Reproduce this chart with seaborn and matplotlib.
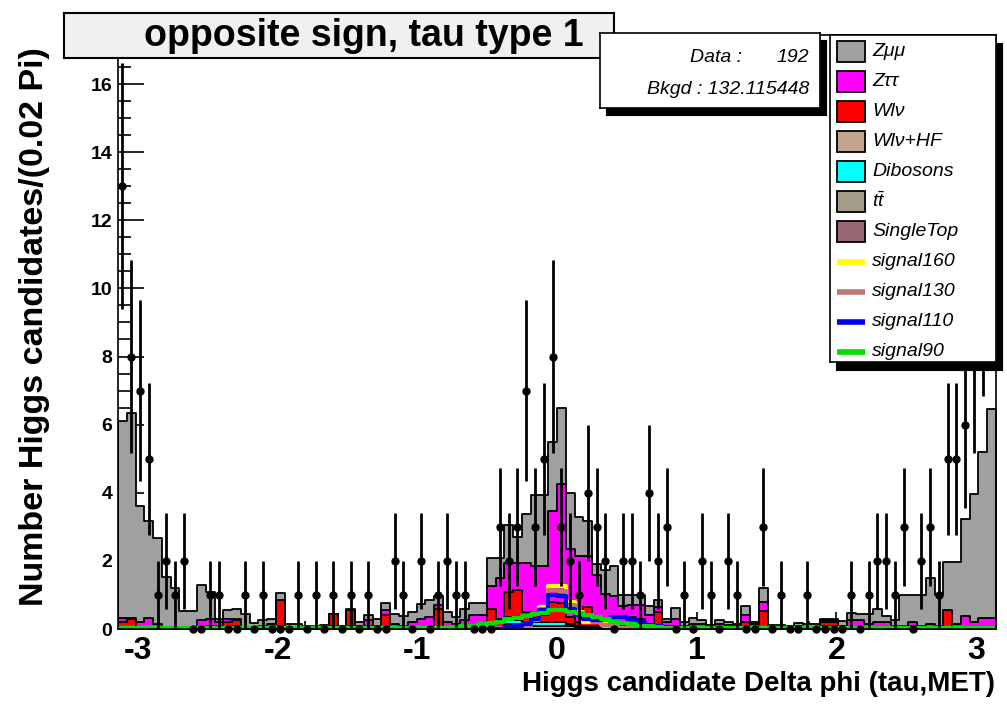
import numpy as np
import pandas as pd
import matplotlib
matplotlib.use("Agg")
import matplotlib.pyplot as plt
import seaborn as sns
from matplotlib.patches import Rectangle

# ---------------- data ----------------
n_bins = 100
x_low, x_high = -np.pi, np.pi

data_counts = [13, 8, 7, 5, 1, 2, 1, 2, 0, 0,
               1, 1, 0, 0, 1, 0, 1, 0, 0, 0,
               1, 0, 1, 0, 1, 0, 1, 0, 1, 0,
               0, 2, 1, 0, 2, 0, 1, 2, 1, 1,
               0, 0, 0, 3, 2, 3, 7, 3, 5, 8,
               3, 2, 1, 4, 3, 2, 0, 2, 2, 1,
               4, 2, 3, 0, 1, 0, 2, 1, 0, 2,
               1, 0, 0, 3, 0, 1, 0, 0, 1, 0,
               0, 0, 0, 1, 0, 1, 2, 2, 1, 3,
               0, 2, 3, 1, 5, 5, 6, 8, 10, 12]

zmumu = [5.78, 6.02, 3.42, 2.85, 2.51, 1.47, 1.15, 0.50, 0.50, 1.03,
         0.80, 0.10, 0.25, 0.30, 0.38, 0.14, 0.15, 0.15, 0.20, 0.10,
         0.10, 0.06, 0.06, 0.08, 0.00, 0.06, 0.05, 0.14, 0.15, 0.18,
         0.20, 0.28, 0.28, 0.30, 0.42, 0.50, 0.27, 0.30, 0.20, 0.35,
         0.35, 0.35, 0.82, 0.58, 1.11, 0.74, 1.43, 2.09, 2.09, 2.01,
         2.23, 1.63, 1.15, 1.03, 0.32, 0.70, 0.89, 0.32, 0.30, 0.30,
         0.28, 0.19, 0.08, 0.33, 0.10, 0.18, 0.11, 0.03, 0.11, 0.08,
         0.05, 0.28, 0.05, 0.42, 0.05, 0.05, 0.05, 0.10, 0.08, 0.08,
         0.03, 0.03, 0.14, 0.23, 0.18, 0.28, 0.38, 0.18, 0.15, 0.90,
         0.80, 0.90, 1.35, 0.90, 1.42, 1.82, 2.87, 3.76, 4.86, 6.14]

ztautau = [0.12, 0.05, 0.15, 0.28, 0.15, 0.05, 0.05, 0.03, 0.03, 0.20,
           0.20, 0.10, 0.10, 0.05, 0.05, 0.05, 0.10, 0.00, 0.00, 0.05,
           0.05, 0.04, 0.04, 0.04, 0.00, 0.04, 0.00, 0.08, 0.15, 0.10,
           0.15, 0.10, 0.10, 0.15, 0.30, 0.30, 0.10, 0.20, 0.15, 0.25,
           0.30, 0.30, 0.66, 1.20, 0.85, 0.80, 1.45, 1.45, 1.45, 2.67,
           3.50, 2.00, 1.95, 1.50, 1.40, 0.85, 0.80, 0.55, 0.35, 0.40,
           0.30, 0.15, 0.10, 0.20, 0.10, 0.15, 0.10, 0.08, 0.15, 0.12,
           0.10, 0.20, 0.15, 0.25, 0.08, 0.00, 0.05, 0.08, 0.06, 0.06,
           0.05, 0.05, 0.10, 0.25, 0.25, 0.15, 0.20, 0.20, 0.10, 0.10,
           0.10, 0.10, 0.15, 0.10, 0.00, 0.15, 0.37, 0.20, 0.33, 0.33]

wlnu = [0.20, 0.28, 0.00, 0.05, 0.00, 0.00, 0.00, 0.00, 0.00, 0.05,
        0.00, 0.10, 0.20, 0.15, 0.00, 0.00, 0.00, 0.10, 0.77, 0.00,
        0.00, 0.00, 0.00, 0.00, 0.35, 0.00, 0.45, 0.00, 0.00, 0.00,
        0.40, 0.05, 0.00, 0.00, 0.00, 0.05, 0.60, 0.00, 0.00, 0.00,
        0.10, 0.10, 0.60, 0.30, 0.75, 0.85, 0.30, 0.20, 0.20, 0.60,
        0.55, 0.20, 0.10, 0.55, 0.10, 0.07, 0.07, 0.03, 0.25, 0.20,
        0.10, 0.50, 0.10, 0.10, 0.00, 0.00, 0.00, 0.00, 0.00, 0.00,
        0.00, 0.20, 0.00, 0.53, 0.00, 0.00, 0.00, 0.00, 0.00, 0.00,
        0.10, 0.10, 0.00, 0.00, 0.00, 0.00, 0.00, 0.00, 0.00, 0.00,
        0.10, 0.00, 0.00, 0.00, 0.55, 0.00, 0.00, 0.00, 0.00, 0.00]

wlnuhf = [0, 0, 0, 0, 0, 0, 0, 0, 0, 0,
          0, 0, 0, 0, 0, 0, 0, 0, 0.08, 0,
          0, 0, 0, 0, 0, 0, 0, 0, 0, 0,
          0, 0, 0, 0, 0, 0, 0, 0, 0, 0,
          0, 0, 0, 0, 0.10, 0.05, 0, 0, 0, 0,
          0, 0, 0, 0, 0, 0, 0, 0, 0, 0,
          0, 0, 0, 0, 0, 0, 0, 0, 0, 0,
          0, 0, 0, 0, 0, 0, 0, 0, 0, 0,
          0, 0, 0, 0, 0, 0, 0, 0, 0, 0,
          0, 0, 0, 0, 0, 0, 0, 0, 0, 0]

dibosons = [0, 0, 0.05, 0, 0, 0, 0, 0, 0, 0,
            0.08, 0, 0, 0, 0, 0, 0, 0, 0, 0,
            0, 0, 0, 0, 0, 0, 0, 0, 0.10, 0,
            0, 0, 0, 0.05, 0, 0, 0, 0, 0, 0,
            0, 0, 0, 0, 0.10, 0.10, 0.10, 0.10, 0.10, 0.10,
            0.10, 0.05, 0.05, 0.05, 0.05, 0.10, 0.10, 0.10, 0.10, 0.10,
            0, 0, 0, 0, 0, 0, 0.05, 0, 0, 0,
            0, 0, 0, 0, 0, 0.08, 0, 0, 0, 0,
            0, 0, 0, 0, 0, 0, 0, 0, 0, 0,
            0, 0, 0, 0, 0, 0, 0, 0, 0, 0]

ttbar = [0, 0, 0, 0, 0, 0, 0, 0, 0, 0,
         0, 0, 0, 0.10, 0, 0, 0, 0.05, 0, 0,
         0, 0, 0, 0, 0, 0, 0, 0, 0, 0,
         0, 0, 0, 0, 0, 0, 0, 0, 0, 0,
         0, 0, 0, 0, 0.10, 0.10, 0.10, 0.10, 0.10, 0.10,
         0.10, 0.10, 0.05, 0.05, 0.05, 0, 0, 0, 0, 0,
         0, 0, 0, 0, 0, 0, 0, 0, 0, 0,
         0, 0, 0, 0, 0, 0, 0, 0, 0, 0,
         0, 0, 0, 0, 0, 0, 0, 0, 0, 0,
         0, 0, 0, 0, 0, 0, 0, 0, 0, 0]

singletop = [0, 0, 0, 0, 0, 0, 0, 0, 0, 0,
             0, 0, 0, 0, 0, 0, 0, 0, 0, 0,
             0, 0, 0, 0, 0.10, 0, 0.10, 0, 0, 0,
             0, 0, 0, 0, 0, 0, 0, 0, 0, 0,
             0, 0, 0, 0, 0.05, 0.05, 0, 0, 0, 0,
             0, 0, 0, 0, 0, 0, 0, 0, 0, 0,
             0, 0, 0, 0, 0, 0, 0, 0, 0, 0,
             0, 0, 0, 0, 0, 0, 0, 0, 0, 0,
             0.10, 0.10, 0, 0, 0, 0, 0, 0, 0, 0,
             0, 0, 0, 0, 0, 0, 0, 0, 0, 0]

sig160 = [0.02] * 46 + [0.15, 0.30, 0.65, 1.27, 1.25, 0.80, 0.50, 0.20, 0.25, 0.15,
                        0.10] + [0.02] * 43
sig130 = [0.02] * 46 + [0.10, 0.25, 0.60, 1.15, 1.12, 0.70, 0.45, 0.30, 0.20, 0.12,
                        0.08] + [0.02] * 43
sig110 = [0.01] * 44 + [0.05, 0.10, 0.15, 0.30, 0.55, 1.00, 0.98, 0.60, 0.40, 0.30,
                        0.25, 0.30, 0.35, 0.35, 0.30, 0.20, 0.12, 0.08, 0.05] + [0.02] * 37
sig90 = [0.03] * 38 + [0.06, 0.08, 0.10, 0.14, 0.18, 0.22, 0.28, 0.33, 0.38, 0.44,
                       0.48, 0.55, 0.55, 0.50, 0.46, 0.40, 0.34, 0.28, 0.22, 0.18,
                       0.14, 0.10, 0.08, 0.06] + [0.03] * 38

categories = ["Zμμ", "Zττ", "Wlν", "Wlν+HF", "Dibosons", "tt̄", "SingleTop"]
legend_labels = ["Zμμ", "Zττ", "Wlν", "Wlν+HF", "Dibosons", r"$t\bar{t}$", "SingleTop"]
signal_names = ["signal160", "signal130", "signal110", "signal90"]
x_tick_values = [-3, -2, -1, 0, 1, 2, 3]
x_tick_labels = ["-3", "-2", "-1", "0", "1", "2", "3"]
y_tick_values = [0, 2, 4, 6, 8, 10, 12, 14, 16]
title_text = "opposite sign, tau type 1"
x_label = "Higgs candidate Delta phi (tau,MET)"
y_label = "Number Higgs candidates/(0.02 Pi)"
stat_data = ("Data :", "192")
stat_bkgd = "Bkgd : 132.115448"

# ---------------- styles ----------------
fill_colors = ["#a0a0a0", "#ff00ff", "#ff0000", "#c4a48e", "#00ffff", "#a59d8b", "#986872"]
signal_colors = ["#ffff00", "#c07474", "#0000ee", "#00e000"]

sns.set_style("ticks")
plt.rcParams["font.family"] = ["Liberation Sans", "DejaVu Sans"]
plt.rcParams["mathtext.fontset"] = "custom"
plt.rcParams["mathtext.it"] = "Liberation Sans:italic"
plt.rcParams["mathtext.rm"] = "Liberation Sans"
for key in ["text.color", "axes.labelcolor", "xtick.color", "ytick.color",
            "xtick.labelcolor", "ytick.labelcolor", "axes.edgecolor"]:
    plt.rcParams[key] = "black"

W, H = 1007, 708
fig = plt.figure(figsize=(W / 100, H / 100), dpi=100)
fig.patch.set_facecolor("white")


def rect(x0, y0, x1, y1):
    return [x0 / W, 1 - y1 / H, (x1 - x0) / W, (y1 - y0) / H]


ax = fig.add_axes(rect(118, 35, 996, 629))

edges = np.linspace(x_low, x_high, n_bins + 1)
bin_list = [float(e) for e in edges]
centers = 0.5 * (edges[:-1] + edges[1:])

comp_values = [zmumu, ztautau, wlnu, wlnuhf, dibosons, ttbar, singletop]
df = pd.concat([pd.DataFrame({"x": centers, "w": vals, "comp": name})
                for name, vals in zip(categories, comp_values)], ignore_index=True)

sns.histplot(data=df, x="x", weights="w", hue="comp", hue_order=categories,
             bins=bin_list, multiple="stack", element="step", fill=True,
             palette=dict(zip(categories, fill_colors)), alpha=1,
             edgecolor="black", linewidth=1.3, legend=False, ax=ax)

for vals, col in zip([sig160, sig130, sig110, sig90], signal_colors):
    sdf = pd.DataFrame({"x": centers, "w": vals})
    sns.histplot(data=sdf, x="x", weights="w", bins=bin_list, element="step",
                 fill=False, color=col, linewidth=3, ax=ax)

counts = np.array(data_counts, dtype=float)
ax.errorbar(centers, counts, yerr=np.sqrt(counts), fmt="o", color="black",
            ms=5, elinewidth=2, capsize=0, clip_on=False, zorder=5)

ax.set_xlim(x_low, x_high)
ax.set_ylim(0, 17.44)
ax.set_xlabel("")
ax.set_ylabel("")
ax.set_xticks(x_tick_values)
ax.set_xticklabels(x_tick_labels, fontsize=23, fontweight="bold")
ax.set_xticks(np.arange(-3.0, 3.01, 0.2), minor=True)
ax.set_yticks(y_tick_values)
ax.set_yticklabels([str(v) for v in y_tick_values], fontsize=14, fontweight="bold")
ax.set_yticks(np.arange(0, 17.44, 0.5), minor=True)
ax.tick_params(axis="y", which="major", direction="in", length=19, width=1.2, pad=4)
ax.tick_params(axis="y", which="minor", direction="in", length=9.5, width=1.2)
ax.tick_params(axis="x", which="major", direction="in", length=12, width=1.2, pad=5)
ax.tick_params(axis="x", which="minor", direction="in", length=6, width=1.2)
for s in ax.spines.values():
    s.set_visible(True)
    s.set_color("black")
    s.set_linewidth(1.2)

fig.text(995 / W, 1 - 684 / H, x_label, ha="right", va="center",
         fontsize=20, fontweight="bold", color="black")
fig.text(35 / W, 1 - 47 / H, y_label, ha="center", va="top", rotation=90,
         fontsize=24.5, fontweight="bold", color="black")

# title box
tax = fig.add_axes(rect(64, 13, 614, 58))
tax.set_facecolor("#f0f0f0")
tax.set_xticks([]); tax.set_yticks([])
for s in tax.spines.values():
    s.set_color("black"); s.set_linewidth(1.5)
tax.text(0.545, 0.5, title_text, ha="center", va="center", fontsize=27,
         fontweight="bold", color="black", transform=tax.transAxes)

# stat box with shadow
sh = fig.add_axes(rect(606, 40, 826, 115))
sh.set_facecolor("black"); sh.set_xticks([]); sh.set_yticks([])
sax = fig.add_axes(rect(600, 33, 820, 108))
sax.set_facecolor("white"); sax.set_xticks([]); sax.set_yticks([])
for s in sax.spines.values():
    s.set_color("black"); s.set_linewidth(1.2)
sax.set_xlim(0, 220); sax.set_ylim(75, 0)
sax.text(142, 24, stat_data[0], ha="right", va="center", fontsize=14, style="italic")
sax.text(209, 24, stat_data[1], ha="right", va="center", fontsize=14, style="italic")
sax.text(209, 57, stat_bkgd, ha="right", va="center", fontsize=14, style="italic")

# legend box with shadow
lsh = fig.add_axes(rect(836, 43, 1002, 370))
lsh.set_facecolor("black"); lsh.set_xticks([]); lsh.set_yticks([])
lax = fig.add_axes(rect(830, 35, 996, 362))
lax.set_facecolor("white"); lax.set_xticks([]); lax.set_yticks([])
for s in lax.spines.values():
    s.set_color("black"); s.set_linewidth(1.2)
lax.set_xlim(0, 166); lax.set_ylim(327, 0)
row = 0
for lab, col in zip(legend_labels, fill_colors):
    yc = 16 + 30.1 * row
    lax.add_patch(Rectangle((7, yc - 10.5), 28, 21, facecolor=col,
                            edgecolor="black", linewidth=1.3))
    lax.text(42, yc, lab, ha="left", va="center", fontsize=14, style="italic")
    row += 1
for lab, col in zip(signal_names, signal_colors):
    yc = 16 + 30.1 * row
    lax.plot([7, 35], [yc, yc], color=col, linewidth=4, solid_capstyle="butt")
    lax.text(42, yc, lab, ha="left", va="center", fontsize=14, style="italic")
    row += 1

fig.savefig("out.png", dpi=100)
